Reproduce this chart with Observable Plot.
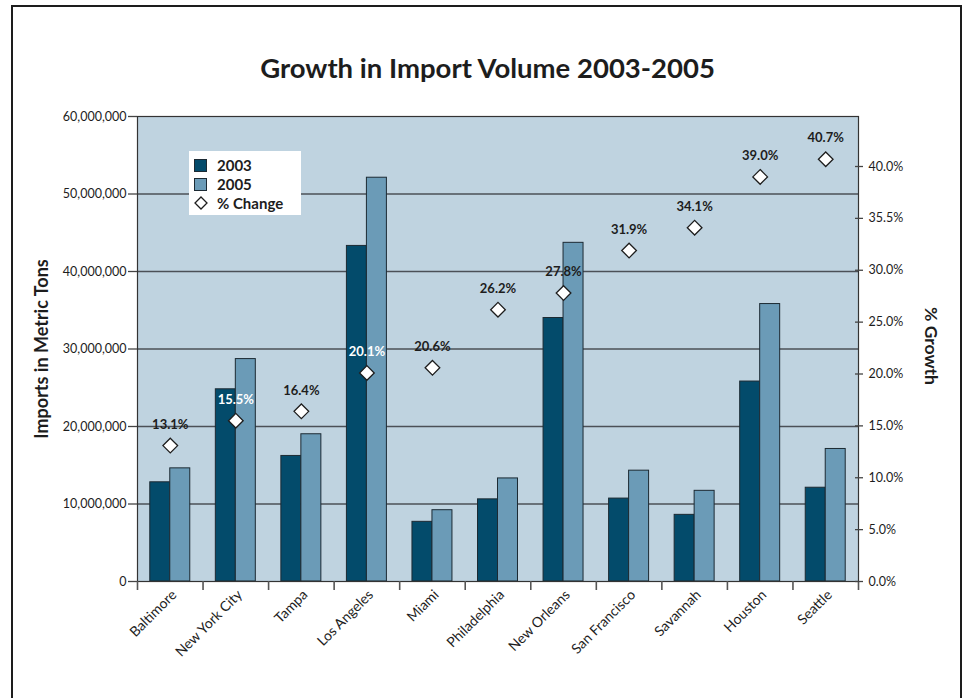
<!DOCTYPE html>
<html>
<head>
<meta charset="utf-8">
<script src="https://cdn.jsdelivr.net/npm/d3@7"></script>
<script src="https://cdn.jsdelivr.net/npm/@observablehq/plot@0.6"></script>
<style>
  html, body { margin: 0; padding: 0; background: #fff; }
  body { width: 963px; height: 698px; position: relative; overflow: hidden; font-family: Lato, "DejaVu Sans", sans-serif; }
  #border { position: absolute; left: 11px; top: 5px; width: 951px; height: 760px; border: 2.5px solid #1d1d1d; box-sizing: border-box; }
  #title { position: absolute; left: 0; width: 975px; top: 51px; text-align: center; font-size: 27.5px; font-weight: 700; color: #1d1d1d; letter-spacing: 0px; }
  .layer { position: absolute; left: 0; top: 0; }
  #legend { position: absolute; left: 189px; top: 151px; width: 112px; height: 64px; background: #fff; font-size: 15px; font-weight: 700; color: #1d1d1d; }
  .row { position: absolute; left: 0; height: 18px; display: flex; align-items: center; }
  .sw { width: 13px; height: 13px; box-sizing: border-box; border: 1px solid #1c2a33; margin-left: 5px; margin-right: 10px; }
</style>
</head>
<body>
<div id="border"></div>
<div id="title"></div>
<div id="chart1" class="layer"></div>
<div id="chart2" class="layer"></div>
<div id="legend"></div>
<script>
// ---- data ----
const chartTitle = "Growth in Import Volume 2003-2005";
const cities = ["Baltimore", "New York City", "Tampa", "Los Angeles", "Miami", "Philadelphia", "New Orleans", "San Francisco", "Savannah", "Houston", "Seattle"];
const imports2003 = [12.8e6, 24.8e6, 16.2e6, 43.3e6, 7.7e6, 10.6e6, 34.0e6, 10.7e6, 8.6e6, 25.8e6, 12.1e6];
const imports2005 = [14.6e6, 28.7e6, 19.0e6, 52.1e6, 9.2e6, 13.3e6, 43.7e6, 14.3e6, 11.7e6, 35.8e6, 17.1e6];
const pctChange = [13.1, 15.5, 16.4, 20.1, 20.6, 26.2, 27.8, 31.9, 34.1, 39.0, 40.7];
const leftTicks = [0, 10e6, 20e6, 30e6, 40e6, 50e6, 60e6];
const rightTicks = [0, 5, 10, 15, 20, 25, 30, 35, 40];
const rightTickLabels = ["0.0%", "5.0%", "10.0%", "15.0%", "20.0%", "25.0%", "30.0%", "35.5%", "40.0%"];
const seriesNames = ["2003", "2005", "% Change"];
const leftAxisLabel = "Imports in Metric Tons";
const rightAxisLabel = "% Growth";

// ---- build ----
const rows = cities.map((city, i) => ({city, i, v03: imports2003[i], v05: imports2005[i], pct: pctChange[i]}));
const C03 = "#034b6b", C05 = "#6b9bb7", BG = "#bfd3e0", INK = "#1d1d1d";
const W = 963, H = 698, ML = 137, MR = 105, MT = 116, MB = 117;
const font = "Lato, 'DejaVu Sans', sans-serif";

document.getElementById("title").textContent = chartTitle;

const p1 = Plot.plot({
  width: W, height: H, marginLeft: ML, marginRight: MR, marginTop: MT, marginBottom: MB,
  style: {fontFamily: font, background: "transparent", color: INK, overflow: "visible"},
  x: {domain: [0, cities.length], axis: null},
  y: {domain: [0, 60e6], axis: null},
  marks: [
    Plot.frame({fill: BG, stroke: null}),
    Plot.ruleY(leftTicks.filter(t => t > 0 && t < 60e6), {stroke: "#4b5057", strokeWidth: 1.6}),
    Plot.rectY(rows, {x1: d => d.i + 0.195, x2: d => d.i + 0.5, y: "v03", fill: C03, stroke: "#1c2a33", strokeWidth: 1}),
    Plot.rectY(rows, {x1: d => d.i + 0.5, x2: d => d.i + 0.805, y: "v05", fill: C05, stroke: "#1c2a33", strokeWidth: 1}),
    Plot.frame({stroke: "#333", strokeWidth: 1.2}),
    Plot.axisY({anchor: "left", label: null, ticks: leftTicks, tickFormat: d3.format(","), tickSize: 9, tickPadding: 2, fontSize: 12.5, stroke: "#444", strokeWidth: 1.3}),
    Plot.axisX({anchor: "bottom", label: null, ticks: d3.range(0, cities.length + 1), tickFormat: () => "", tickSize: 9, stroke: "#555", strokeWidth: 1.6}),
    Plot.text(rows, {x: d => d.i + 0.5, y: 0, text: "city", rotate: -45, textAnchor: "end", lineAnchor: "middle", dx: 4, dy: 11, fontSize: 14, fill: INK}),
    Plot.text([leftAxisLabel], {frameAnchor: "left", textAnchor: "middle", text: d => d, dx: -95, rotate: -90, fontSize: 18, fontWeight: "bold", fill: INK})
  ]
});
document.getElementById("chart1").appendChild(p1);

const p2 = Plot.plot({
  width: W, height: H, marginLeft: ML, marginRight: MR, marginTop: MT, marginBottom: MB,
  style: {fontFamily: font, background: "transparent", color: INK, overflow: "visible"},
  x: {domain: [0, cities.length], axis: null},
  y: {domain: [0, 44.82], axis: null},
  marks: [
    Plot.axisY({anchor: "right", label: null, ticks: rightTicks, tickFormat: (d, i) => rightTickLabels[i], tickSize: 8, dx: -4, tickPadding: 6, fontSize: 12.5, stroke: "#444", strokeWidth: 1.3}),
    Plot.dot(rows, {x: d => d.i + 0.5, y: "pct", symbol: "diamond2", r: 6.6, fill: "white", stroke: INK, strokeWidth: 1.3}),
    Plot.text(rows.filter(d => d.city !== "New York City" && d.city !== "Los Angeles"), {x: d => d.i + 0.5, y: "pct", text: d => d.pct.toFixed(1) + "%", dy: -21, fontSize: 13, fontWeight: "bold", fill: INK}),
    Plot.text(rows.filter(d => d.city === "New York City" || d.city === "Los Angeles"), {x: d => d.i + 0.5, y: "pct", text: d => d.pct.toFixed(1) + "%", dy: -21, fontSize: 13, fontWeight: "bold", fill: "white"}),
    Plot.text([rightAxisLabel], {frameAnchor: "right", textAnchor: "middle", text: d => d, dx: 72, dy: -3, rotate: 90, fontSize: 17.5, fontWeight: "bold", fill: INK})
  ]
});
document.getElementById("chart2").appendChild(p2);

// legend
const legend = document.getElementById("legend");
const legendColors = [C03, C05, null];
seriesNames.forEach((name, k) => {
  const row = document.createElement("div");
  row.className = "row";
  row.style.top = (5 + k * 19) + "px";
  if (legendColors[k]) {
    const sw = document.createElement("div");
    sw.className = "sw";
    sw.style.background = legendColors[k];
    row.appendChild(sw);
  } else {
    const s = document.createElementNS("http://www.w3.org/2000/svg", "svg");
    s.setAttribute("width", 20); s.setAttribute("height", 16);
    s.style.marginLeft = "2px"; s.style.marginRight = "6px";
    s.innerHTML = '<path d="M10,2 L16,8 L10,14 L4,8 Z" fill="white" stroke="#1d1d1d" stroke-width="1.3"/>';
    row.appendChild(s);
  }
  const t = document.createElement("span");
  t.textContent = name;
  row.appendChild(t);
  legend.appendChild(row);
});
</script>
</body>
</html>
